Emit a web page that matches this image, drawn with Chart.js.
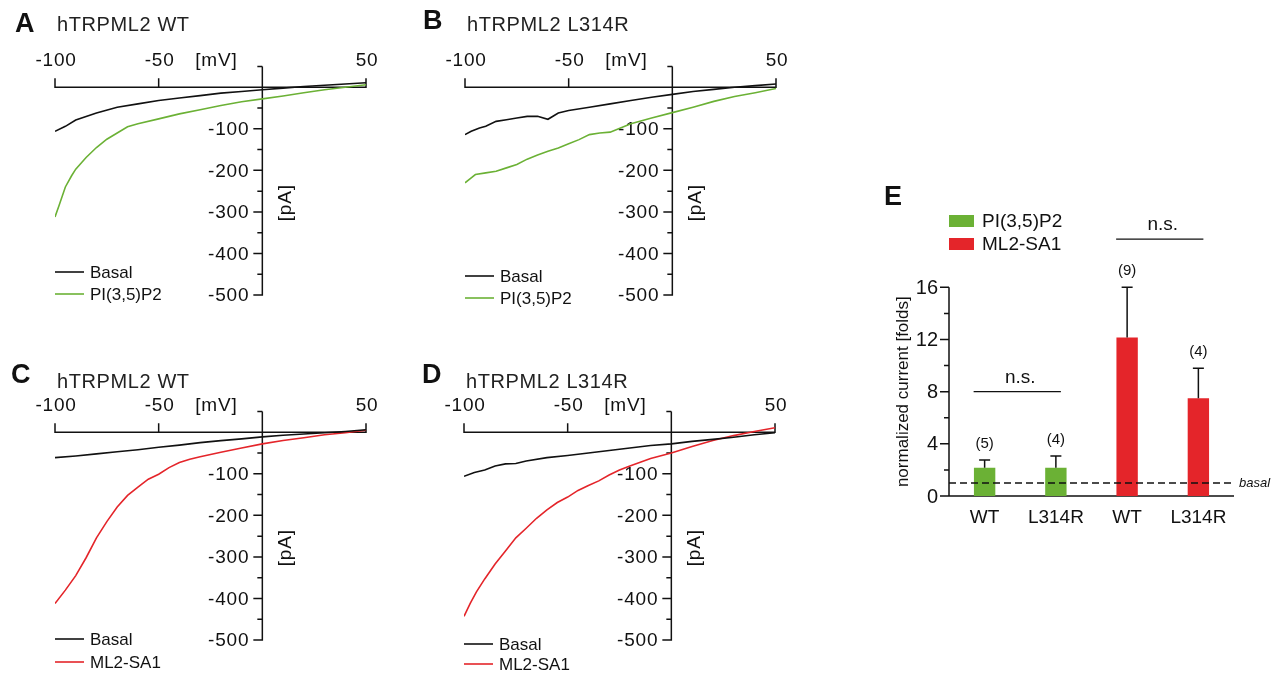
<!DOCTYPE html>
<html>
<head>
<meta charset="utf-8">
<script src="https://cdn.jsdelivr.net/npm/chart.js@4/dist/chart.umd.min.js"></script>
<style>
body{margin:0;background:#fff;width:1278px;height:674px;overflow:hidden;position:relative}
canvas{position:absolute}
</style>
</head>
<body>
<canvas id="cA" width="410" height="335" style="left:0;top:0"></canvas>
<canvas id="cB" width="410" height="335" style="left:410px;top:0"></canvas>
<canvas id="cC" width="410" height="335" style="left:0;top:345px"></canvas>
<canvas id="cD" width="410" height="335" style="left:409px;top:345px"></canvas>
<canvas id="cE" width="418" height="380" style="left:860px;top:170px"></canvas>
<script>
// I-V traces, voltage in mV / current in pA
var aBasalMv = [-100,-95,-90,-80,-70,-60,-50,-40,-30,-20,-10,0,10,20,30,40,50]
var aBasalPa = [-106,-94,-79,-62,-48,-40,-32,-26,-20,-14,-10,-6,-2,2,5,8,11]
var aPipMv = [-100,-98,-95,-92,-90,-85,-80,-75,-70,-65,-60,-50,-40,-30,-20,-10,0,10,20,30,40,50]
var aPipPa = [-312,-284,-240,-213,-197,-169,-145,-125,-110,-95,-88,-76,-64,-54,-44,-35,-28,-21,-13,-6,0,6]

var bBasalMv = [-100,-97,-93,-90,-85,-80,-75,-70,-65,-60,-55,-50,-40,-30,-20,-10,0,10,20,30,40,50]
var bBasalPa = [-114,-106,-98,-94,-82,-78,-74,-70,-70,-77,-62,-56,-48,-40,-32,-24,-17,-10,-5,0,4,8]
var bPipMv = [-100,-97,-95,-90,-85,-80,-75,-70,-65,-60,-55,-50,-45,-40,-35,-30,-25,-20,-10,0,10,20,30,40,50]
var bPipPa = [-230,-218,-210,-206,-202,-194,-186,-173,-163,-154,-146,-136,-126,-114,-110,-108,-98,-88,-74,-61,-48,-34,-22,-13,-3]

var cBasalMv = [-100,-90,-80,-70,-60,-50,-40,-30,-20,-10,0,10,20,30,40,50]
var cBasalPa = [-61,-57,-52,-47,-42,-36,-31,-25,-20,-16,-11,-7,-4,-1,2,6]
var cSaMv = [-100,-95,-90,-85,-80,-75,-70,-65,-60,-55,-50,-45,-40,-35,-30,-20,-10,0,10,20,30,40,50]
var cSaPa = [-412,-380,-345,-302,-254,-215,-180,-152,-132,-113,-101,-85,-73,-65,-59,-48,-38,-28,-20,-13,-6,-1,5]

var dBasalMv = [-100,-95,-90,-85,-80,-75,-70,-60,-50,-40,-30,-20,-10,0,10,20,30,40,50]
var dBasalPa = [-106,-97,-91,-81,-76,-75,-69,-61,-56,-50,-44,-38,-32,-28,-22,-17,-12,-6,-1]
var dSaMv = [-100,-97,-94,-90,-85,-80,-75,-70,-65,-60,-55,-50,-45,-40,-35,-30,-25,-20,-10,0,10,20,30,40,50]
var dSaPa = [-443,-412,-384,-353,-317,-286,-254,-231,-207,-187,-169,-156,-140,-128,-117,-103,-91,-81,-63,-50,-34,-20,-8,2,11]

var mvTicks = [-100, -50, 50]
var paTicks = [-100, -200, -300, -400, -500]
var paMinor = [50, -50, -150, -250, -350, -450]

// panel E: normalized current [folds]
var eCats = ['WT', 'L314R', 'WT', 'L314R']
var ePip2 = [2.17, 2.17, null, null]
var eSa1 = [null, null, 12.15, 7.5]
var eErrTop = [2.76, 3.07, 16.0, 9.8]
var eN = ['(5)', '(4)', '(9)', '(4)']
var eBasal = 1
var eTicks = [0, 4, 8, 12, 16]
var eMinor = [2, 6, 10, 14]
var eNs = [{from: 0, to: 1, at: 8}, {from: 2, to: 3, at: 19.7}]

var FONT = '"Liberation Sans", Arial, Helvetica, sans-serif'
var GREEN = '#6bb135'
var RED = '#e4252a'
var INK = '#111'

function pts(mv, pa){
    return mv.map(function(v, i){ return {x: v, y: pa[i]} })
}

var ivDecor = {
  id: 'ivDecor',
  beforeDatasetsDraw: function(chart, args, o){
    var ctx = chart.ctx, xs = chart.scales.x, ys = chart.scales.y
    var x0 = xs.getPixelForValue(0), y0 = ys.getPixelForValue(0)
    ctx.save()
    ctx.strokeStyle = INK
    ctx.lineWidth = 1.5
    ctx.beginPath()
    ctx.moveTo(xs.getPixelForValue(-100), y0)
    ctx.lineTo(xs.getPixelForValue(50), y0)
    ctx.moveTo(x0, ys.getPixelForValue(50))
    ctx.lineTo(x0, ys.getPixelForValue(-500) + 0.75)
    mvTicks.forEach(function(v){
        var x = xs.getPixelForValue(v)
        ctx.moveTo(x, y0 + 0.75); ctx.lineTo(x, y0 - 9)
    })
    paTicks.forEach(function(v){
        var y = ys.getPixelForValue(v)
        ctx.moveTo(x0 + 0.75, y); ctx.lineTo(x0 - 9, y)
    })
    paMinor.forEach(function(v){
        var y = ys.getPixelForValue(v)
        ctx.moveTo(x0, y); ctx.lineTo(x0 - 5, y)
    })
    ctx.stroke()

    ctx.fillStyle = INK
    ctx.font = '19px ' + FONT
    ctx.letterSpacing = '0.8px'
    ctx.textAlign = 'center'
    ctx.textBaseline = 'alphabetic'
    mvTicks.forEach(function(v){
        ctx.fillText(String(v), xs.getPixelForValue(v) + 1, y0 - 21)
    })
    ctx.fillText('[mV]', x0 - 46, y0 - 21)
    ctx.textAlign = 'right'
    ctx.textBaseline = 'middle'
    paTicks.forEach(function(v){
        ctx.fillText(String(v), x0 - 13, ys.getPixelForValue(v) + 1)
    })
    ctx.save()
    ctx.translate(x0 + 23, ys.getPixelForValue(-278))
    ctx.rotate(-Math.PI / 2)
    ctx.textAlign = 'center'
    ctx.fillText('[pA]', 0, 0)
    ctx.restore()

    // panel letter and title
    ctx.textAlign = 'left'
    ctx.textBaseline = 'alphabetic'
    ctx.letterSpacing = '0px'
    ctx.font = 'bold 27px ' + FONT
    ctx.fillText(o.letter, o.letterX, o.letterY)
    ctx.font = '20px ' + FONT
    ctx.letterSpacing = '0.6px'
    ctx.fillStyle = '#222'
    ctx.fillText(o.title, 57, o.titleY)

    // legend
    ctx.letterSpacing = '0px'
    ctx.font = '17px ' + FONT
    ctx.fillStyle = INK
    ctx.textBaseline = 'middle'
    chart.data.datasets.forEach(function(ds, i){
        var y = o.legendY[i]
        ctx.strokeStyle = ds.borderColor
        ctx.lineWidth = 1.6
        ctx.beginPath()
        ctx.moveTo(55, y); ctx.lineTo(84, y)
        ctx.stroke()
        ctx.fillText(ds.label, 90, y + 1)
    })
    ctx.restore()
  }
}

function ivPanel(id, p){
    return new Chart(document.getElementById(id), {
        type: 'line',
        data: {
            datasets: [
                {label: 'Basal', data: pts(p.basalMv, p.basalPa), borderColor: INK},
                {label: p.drug, data: pts(p.drugMv, p.drugPa), borderColor: p.color}
            ]
        },
        options: {
            responsive: false,
            animation: false,
            events: [],
            layout: {padding: {left: 55, right: 44, top: 66.5, bottom: 40}},
            elements: {line: {borderWidth: 1.6, tension: 0}, point: {radius: 0}},
            scales: {
                x: {type: 'linear', min: -100, max: 50, display: false},
                y: {type: 'linear', min: -500, max: 50, display: false}
            },
            plugins: {
                legend: {display: false},
                tooltip: {enabled: false},
                ivDecor: p.decor
            }
        },
        plugins: [ivDecor]
    })
}

ivPanel('cA', {basalMv: aBasalMv, basalPa: aBasalPa, drugMv: aPipMv, drugPa: aPipPa, drug: 'PI(3,5)P2', color: GREEN,
    decor: {letter: 'A', letterX: 15, letterY: 32, title: 'hTRPML2 WT', titleY: 31, legendY: [272, 294]}})
ivPanel('cB', {basalMv: bBasalMv, basalPa: bBasalPa, drugMv: bPipMv, drugPa: bPipPa, drug: 'PI(3,5)P2', color: GREEN,
    decor: {letter: 'B', letterX: 13, letterY: 29, title: 'hTRPML2 L314R', titleY: 31, legendY: [276, 298]}})
ivPanel('cC', {basalMv: cBasalMv, basalPa: cBasalPa, drugMv: cSaMv, drugPa: cSaPa, drug: 'ML2-SA1', color: RED,
    decor: {letter: 'C', letterX: 11, letterY: 38, title: 'hTRPML2 WT', titleY: 43, legendY: [294, 317]}})
ivPanel('cD', {basalMv: dBasalMv, basalPa: dBasalPa, drugMv: dSaMv, drugPa: dSaPa, drug: 'ML2-SA1', color: RED,
    decor: {letter: 'D', letterX: 13, letterY: 38, title: 'hTRPML2 L314R', titleY: 43, legendY: [299, 319]}})

var eDecor = {
  id: 'eDecor',
  beforeDatasetsDraw: function(chart){
    var ctx = chart.ctx, xs = chart.scales.x, ys = chart.scales.y, a = chart.chartArea
    var yb = ys.getPixelForValue(0)
    ctx.save()
    ctx.strokeStyle = INK
    ctx.lineWidth = 1.5
    ctx.beginPath()
    ctx.moveTo(a.left, ys.getPixelForValue(16))
    ctx.lineTo(a.left, yb)
    ctx.lineTo(a.right, yb)
    eTicks.forEach(function(v){
        var y = ys.getPixelForValue(v)
        ctx.moveTo(a.left, y); ctx.lineTo(a.left - 9, y)
    })
    eMinor.forEach(function(v){
        var y = ys.getPixelForValue(v)
        ctx.moveTo(a.left, y); ctx.lineTo(a.left - 5, y)
    })
    ctx.stroke()

    ctx.fillStyle = INK
    ctx.font = '20px ' + FONT
    ctx.textAlign = 'right'
    ctx.textBaseline = 'middle'
    eTicks.forEach(function(v){
        ctx.fillText(String(v), a.left - 11, ys.getPixelForValue(v) + 1)
    })
    ctx.font = '19px ' + FONT
    ctx.textAlign = 'center'
    ctx.textBaseline = 'alphabetic'
    eCats.forEach(function(c, i){
        ctx.fillText(c, xs.getPixelForValue(i), yb + 27)
    })
    ctx.save()
    ctx.translate(43, (ys.getPixelForValue(0) + ys.getPixelForValue(16)) / 2)
    ctx.rotate(-Math.PI / 2)
    ctx.font = '17px ' + FONT
    ctx.textBaseline = 'middle'
    ctx.fillText('normalized current [folds]', 0, 0)
    ctx.restore()

    ctx.textAlign = 'left'
    ctx.font = 'bold 27px ' + FONT
    ctx.fillText('E', 24, 35)

    // legend
    ctx.font = '19px ' + FONT
    ctx.textBaseline = 'middle'
    chart.data.datasets.forEach(function(ds, i){
        var y = 51 + i * 23
        ctx.fillStyle = ds.backgroundColor
        ctx.fillRect(a.left, y - 6, 25, 12)
        ctx.fillStyle = INK
        ctx.fillText(ds.label, a.left + 33, y + 1)
    })
    ctx.restore()
  },
  afterDatasetsDraw: function(chart){
    var ctx = chart.ctx, xs = chart.scales.x, ys = chart.scales.y, a = chart.chartArea
    ctx.save()
    ctx.strokeStyle = INK
    ctx.lineWidth = 1.5
    ctx.setLineDash([7, 4])
    ctx.beginPath()
    var yBasal = ys.getPixelForValue(eBasal)
    ctx.moveTo(a.left, yBasal); ctx.lineTo(a.right, yBasal)
    ctx.stroke()
    ctx.setLineDash([])

    ctx.fillStyle = INK
    ctx.font = 'italic 13px ' + FONT
    ctx.textAlign = 'left'
    ctx.textBaseline = 'middle'
    ctx.fillText('basal', a.right + 5, yBasal)

    ctx.beginPath()
    eErrTop.forEach(function(top, i){
        var x = xs.getPixelForValue(i)
        var mean = ePip2[i] != null ? ePip2[i] : eSa1[i]
        var yt = ys.getPixelForValue(top)
        ctx.moveTo(x, ys.getPixelForValue(mean)); ctx.lineTo(x, yt)
        ctx.moveTo(x - 5.5, yt); ctx.lineTo(x + 5.5, yt)
    })
    ctx.stroke()

    ctx.font = '15px ' + FONT
    ctx.textAlign = 'center'
    eN.forEach(function(n, i){
        ctx.fillText(n, xs.getPixelForValue(i), ys.getPixelForValue(eErrTop[i]) - 16)
    })

    ctx.font = '19px ' + FONT
    ctx.textBaseline = 'alphabetic'
    ctx.lineWidth = 1.3
    eNs.forEach(function(s){
        var x1 = xs.getPixelForValue(s.from) - 11
        var x2 = xs.getPixelForValue(s.to) + 5
        var y = ys.getPixelForValue(s.at)
        ctx.beginPath()
        ctx.moveTo(x1, y); ctx.lineTo(x2, y)
        ctx.stroke()
        ctx.fillText('n.s.', (x1 + x2) / 2 + 3, y - 9)
    })
    ctx.restore()
  }
}

new Chart(document.getElementById('cE'), {
    type: 'bar',
    data: {
        labels: eCats,
        datasets: [
            {label: 'PI(3,5)P2', data: ePip2, backgroundColor: GREEN},
            {label: 'ML2-SA1', data: eSa1, backgroundColor: RED}
        ]
    },
    options: {
        responsive: false,
        animation: false,
        events: [],
        skipNull: true,
        barPercentage: 0.3,
        categoryPercentage: 1,
        layout: {padding: {left: 89, right: 44, top: 117.3, bottom: 54}},
        scales: {
            x: {display: false},
            y: {min: 0, max: 16, display: false}
        },
        plugins: {legend: {display: false}, tooltip: {enabled: false}}
    },
    plugins: [eDecor]
})
</script>
</body>
</html>
